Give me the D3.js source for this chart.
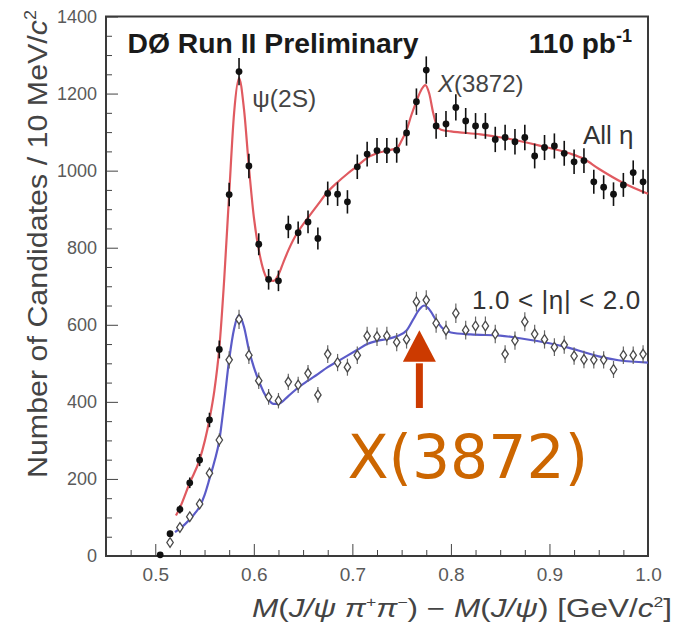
<!DOCTYPE html>
<html>
<head>
<meta charset="utf-8">
<script src="https://cdn.jsdelivr.net/npm/d3@7"></script>
<style>
  body { margin: 0; background: #fff; }
  svg { display: block; font-family: "Liberation Sans", Arial, Helvetica, sans-serif; }
</style>
</head>
<body>
<svg id="chart" width="675" height="623"></svg>
<script>
// bin centres, 10 MeV wide
var binsAll = [0.505, 0.515, 0.525, 0.535, 0.545, 0.555, 0.565, 0.575, 0.585, 0.595,
  0.605, 0.615, 0.625, 0.635, 0.645, 0.655, 0.665, 0.675, 0.685, 0.695,
  0.705, 0.715, 0.725, 0.735, 0.745, 0.755, 0.765, 0.775, 0.785, 0.795,
  0.805, 0.815, 0.825, 0.835, 0.845, 0.855, 0.865, 0.875, 0.885, 0.895,
  0.905, 0.915, 0.925, 0.935, 0.945, 0.955, 0.965, 0.975, 0.985, 0.995];

// All eta (filled points)
var countsAll = [3, 58, 121, 190, 249, 353, 536, 938, 1257, 1012,
  809, 718, 714, 854, 839, 867, 824, 941, 939, 919,
  1010, 1043, 1052, 1052, 1053, 1098, 1179, 1261, 1116, 1121,
  1164, 1129, 1116, 1116, 1081, 1086, 1075, 1086, 1038, 1060,
  1064, 1045, 1023, 1026, 971, 957, 939, 963, 995, 971];

// 1.0 < |eta| < 2.0 (open points)
var binsFwd = binsAll.slice(1);
var countsFwd = [35, 74, 102, 135, 215, 301, 509, 614, 521,
  455, 413, 403, 452, 444, 474, 418, 524, 502, 490,
  521, 571, 569, 571, 555, 562, 660, 664, 604, 586,
  630, 586, 597, 597, 576, 524, 559, 608, 576, 562,
  542, 548, 519, 510, 509, 509, 484, 521, 521, 524];

// fit curves
var fitAllX = [0.521, 0.525, 0.535, 0.545, 0.555, 0.560, 0.565, 0.570, 0.575, 0.580,
  0.585, 0.590, 0.595, 0.600, 0.605, 0.610, 0.615, 0.620, 0.625, 0.630,
  0.635, 0.640, 0.645, 0.655, 0.665, 0.675, 0.685, 0.695, 0.705, 0.715,
  0.725, 0.735, 0.745, 0.750, 0.755, 0.760, 0.765, 0.770, 0.774, 0.778,
  0.782, 0.786, 0.790, 0.800, 0.830, 0.860, 0.890, 0.920, 0.935, 0.950,
  0.975, 1.000];
var fitAllY = [105, 125, 190, 250, 355, 430, 540, 720, 940, 1150,
  1240, 1160, 1010, 880, 795, 740, 716, 714, 730, 762,
  793, 820, 842, 878, 912, 945, 970, 992, 1012, 1033,
  1045, 1052, 1058, 1078, 1105, 1145, 1180, 1210, 1222, 1200,
  1150, 1115, 1106, 1102, 1094, 1082, 1065, 1045, 1030, 1005,
  968, 940];

var fitFwdX = [0.520, 0.530, 0.540, 0.545, 0.550, 0.555, 0.560, 0.565, 0.570, 0.575,
  0.580, 0.585, 0.590, 0.595, 0.600, 0.605, 0.610, 0.615, 0.620, 0.625,
  0.635, 0.645, 0.655, 0.665, 0.675, 0.685, 0.695, 0.705, 0.715, 0.725,
  0.735, 0.745, 0.755, 0.762, 0.768, 0.773, 0.778, 0.785, 0.792, 0.800,
  0.820, 0.850, 0.870, 0.900, 0.920, 0.950, 0.970, 1.000];
var fitFwdY = [62, 82, 110, 128, 158, 200, 245, 300, 400, 510,
  590, 625, 595, 535, 490, 455, 425, 405, 395, 395,
  415, 437, 455, 472, 490, 505, 520, 535, 550, 558,
  563, 570, 585, 615, 640, 650, 640, 612, 590, 580,
  575, 572, 565, 552, 540, 518, 508, 502];

var xTicks = [0.5, 0.6, 0.7, 0.8, 0.9, 1.0];
var yTicks = [0, 200, 400, 600, 800, 1000, 1200, 1400];

var svg = d3.select("#chart");
var plotLeft = 106, plotRight = 648, plotTop = 16.5, plotBottom = 556;

var x = d3.scaleLinear().domain([0.45, 1.0]).range([plotLeft, plotRight]);
var y = d3.scaleLinear().domain([0, 1400]).range([plotBottom, plotTop]);

// minor ticks
var xMinor = d3.range(0.475, 1.0, 0.025).filter(function(v){ return Math.abs(v*10 - Math.round(v*10)) > 0.01 });
var yMinor = d3.range(50, 1400, 50).filter(function(v){ return v % 200 != 0 });

var tickColor = "#444";

svg.append("g")
  .attr("transform", "translate(0," + plotBottom + ")")
  .call(d3.axisBottom(x).tickValues(xMinor).tickFormat("").tickSizeInner(-6).tickSizeOuter(0))
  .call(function(g){ g.select(".domain").remove(); g.selectAll("line").attr("stroke", tickColor); });

svg.append("g")
  .attr("transform", "translate(0," + plotBottom + ")")
  .call(d3.axisBottom(x).tickValues(xTicks).tickFormat(d3.format(".1f")).tickSizeInner(-12).tickSizeOuter(0).tickPadding(12))
  .call(function(g){
    g.select(".domain").remove();
    g.selectAll("line").attr("stroke", tickColor);
    g.selectAll("text").attr("font-size", 19).attr("fill", "#5a5a5a").attr("font-family", null);
  });

svg.append("g")
  .attr("transform", "translate(" + plotLeft + ",0)")
  .call(d3.axisLeft(y).tickValues(yMinor).tickFormat("").tickSizeInner(-6).tickSizeOuter(0))
  .call(function(g){ g.select(".domain").remove(); g.selectAll("line").attr("stroke", tickColor); });

svg.append("g")
  .attr("transform", "translate(" + plotLeft + ",0)")
  .call(d3.axisLeft(y).tickValues(yTicks).tickFormat(d3.format("d")).tickSizeInner(-12).tickSizeOuter(0).tickPadding(9))
  .call(function(g){
    g.select(".domain").remove();
    g.selectAll("line").attr("stroke", tickColor);
    g.selectAll("text").attr("font-size", 18).attr("fill", "#5a5a5a").attr("font-family", null);
  });

// frame
svg.append("rect")
  .attr("x", plotLeft).attr("y", plotTop)
  .attr("width", plotRight - plotLeft).attr("height", plotBottom - plotTop)
  .attr("fill", "none").attr("stroke", "#3a3a3a").attr("stroke-width", 2);

// fit lines
var line = d3.line().curve(d3.curveMonotoneX)
  .x(function(d){ return x(d[0]) })
  .y(function(d){ return y(d[1]) });

svg.append("path")
  .datum(d3.zip(fitAllX, fitAllY))
  .attr("d", line)
  .attr("fill", "none").attr("stroke", "#e05a60").attr("stroke-width", 2.2);

svg.append("path")
  .datum(d3.zip(fitFwdX, fitFwdY))
  .attr("d", line)
  .attr("fill", "none").attr("stroke", "#5b5bc8").attr("stroke-width", 2.2);

// error bars (Poisson) + markers
var all = d3.zip(binsAll, countsAll);
var fwd = d3.zip(binsFwd, countsFwd);

svg.append("g").selectAll("line")
  .data(all).enter().append("line")
    .attr("x1", function(d){ return x(d[0]) })
    .attr("x2", function(d){ return x(d[0]) })
    .attr("y1", function(d){ return y(d[1] + Math.sqrt(d[1])) })
    .attr("y2", function(d){ return y(Math.max(0, d[1] - Math.sqrt(d[1]))) })
    .attr("stroke", "#111").attr("stroke-width", 1.6);

svg.append("g").selectAll("circle")
  .data(all).enter().append("circle")
    .attr("cx", function(d){ return x(d[0]) })
    .attr("cy", function(d){ return y(d[1]) })
    .attr("r", 3.4)
    .attr("fill", "#111");

svg.append("g").selectAll("line")
  .data(fwd).enter().append("line")
    .attr("x1", function(d){ return x(d[0]) })
    .attr("x2", function(d){ return x(d[0]) })
    .attr("y1", function(d){ return y(d[1] + Math.sqrt(d[1])) })
    .attr("y2", function(d){ return y(d[1] - Math.sqrt(d[1])) })
    .attr("stroke", "#666").attr("stroke-width", 1.2);

svg.append("g").selectAll("path")
  .data(fwd).enter().append("path")
    .attr("transform", function(d){ return "translate(" + x(d[0]) + "," + y(d[1]) + ")" })
    .attr("d", "M0,-4.8L3.2,0L0,4.8L-3.2,0Z")
    .attr("fill", "#fff").attr("stroke", "#4a4a4a").attr("stroke-width", 1.3);

// labels inside the frame
svg.append("text")
  .attr("x", 127.5).attr("y", 53)
  .attr("font-size", 28).attr("font-weight", "bold").attr("fill", "#1a1a1a")
  .attr("textLength", 291).attr("lengthAdjust", "spacingAndGlyphs")
  .text("DØ Run II Preliminary");

var lumi = svg.append("text")
  .attr("x", 632).attr("y", 53).attr("text-anchor", "end")
  .attr("font-size", 28).attr("font-weight", "bold").attr("fill", "#1a1a1a");
lumi.append("tspan").text("110 pb");
lumi.append("tspan").attr("dy", -11).attr("font-size", 18).text("-1");

svg.append("text")
  .attr("x", x(0.5984)).attr("y", y(1165))
  .attr("font-size", 23).attr("fill", "#444")
  .attr("textLength", 64).attr("lengthAdjust", "spacingAndGlyphs")
  .text("ψ(2S)");

var xl = svg.append("text")
  .attr("x", x(0.787)).attr("y", y(1204))
  .attr("font-size", 24).attr("fill", "#444");
xl.append("tspan").attr("font-style", "italic").text("X");
xl.append("tspan").text("(3872)");

svg.append("text")
  .attr("x", x(0.934)).attr("y", y(1069))
  .attr("font-size", 26).attr("fill", "#333")
  .text("All η");

svg.append("text")
  .attr("x", x(0.8215)).attr("y", y(641))
  .attr("font-size", 26).attr("fill", "#333")
  .attr("textLength", 168).attr("lengthAdjust", "spacing")
  .text("1.0 < |η| < 2.0");

// arrow pointing at the X(3872)
var ax = x(0.768);
svg.append("line")
  .attr("x1", ax).attr("x2", ax)
  .attr("y1", y(500)).attr("y2", y(384))
  .attr("stroke", "#cc3a00").attr("stroke-width", 7);
svg.append("path")
  .attr("d", "M" + ax + "," + y(586) + "L" + (ax + 16.5) + "," + y(504) + "L" + (ax - 16.5) + "," + y(504) + "Z")
  .attr("fill", "#cc3a00");

svg.append("text")
  .attr("x", x(0.695)).attr("y", y(202))
  .attr("font-family", "'DejaVu Sans', Verdana, sans-serif")
  .attr("font-size", 60).attr("fill", "#cc6600")
  .text("X(3872)");

// axis titles
var yt = svg.append("text")
  .attr("transform", "translate(47,244) rotate(-90)")
  .attr("text-anchor", "middle")
  .attr("font-size", 27).attr("fill", "#444")
  .attr("textLength", 468).attr("lengthAdjust", "spacingAndGlyphs");
yt.append("tspan").text("Number of Candidates / 10 MeV/");
yt.append("tspan").attr("font-style", "italic").text("c");
yt.append("tspan").attr("dy", -11).attr("font-size", 16).text("2");

var xt = svg.append("text")
  .attr("x", 672).attr("y", 617).attr("text-anchor", "end")
  .attr("font-size", 25).attr("fill", "#444")
  .attr("textLength", 420).attr("lengthAdjust", "spacingAndGlyphs");
xt.append("tspan").attr("font-style", "italic").text("M");
xt.append("tspan").text("(");
xt.append("tspan").attr("font-style", "italic").text("J/ψ π");
xt.append("tspan").attr("dy", -10).attr("font-size", 14).text("+");
xt.append("tspan").attr("dy", 10).attr("font-style", "italic").text("π");
xt.append("tspan").attr("dy", -10).attr("font-size", 14).text("−");
xt.append("tspan").attr("dy", 10).text(") − ");
xt.append("tspan").attr("font-style", "italic").text("M");
xt.append("tspan").text("(");
xt.append("tspan").attr("font-style", "italic").text("J/ψ");
xt.append("tspan").text(") [GeV/");
xt.append("tspan").attr("font-style", "italic").text("c");
xt.append("tspan").attr("dy", -10).attr("font-size", 14).text("2");
xt.append("tspan").attr("dy", 10).text("]");
</script>
</body>
</html>
